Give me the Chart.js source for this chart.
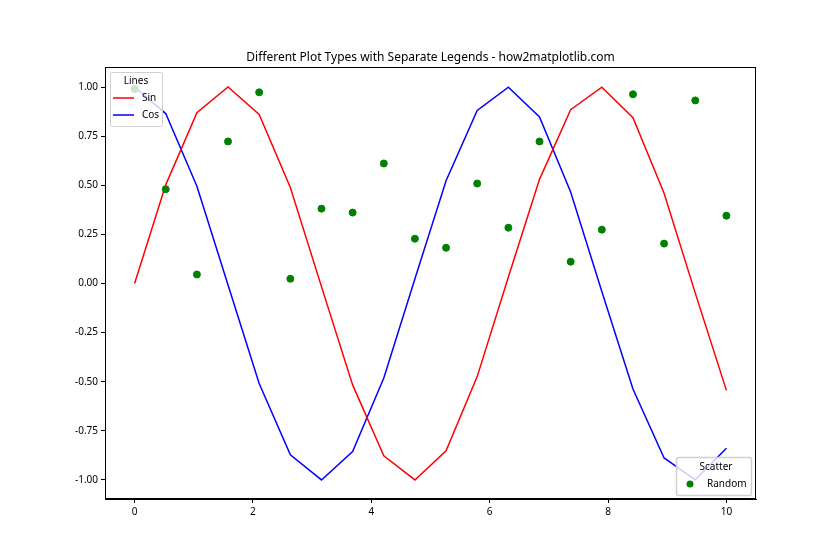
<!DOCTYPE html>
<html>
<head>
<meta charset="utf-8">
<script src="https://cdn.jsdelivr.net/npm/chart.js@4"></script>
<style>
  body { margin: 0; background: #fff; }
</style>
</head>
<body>
<canvas id="grafico" width="840" height="560"></canvas>
<script>
// valores
const xValues = [0, 0.526, 1.053, 1.579, 2.105, 2.632, 3.158, 3.684, 4.211, 4.737,
  5.263, 5.789, 6.316, 6.842, 7.368, 7.895, 8.421, 8.947, 9.474, 10];
const sinValues = [0, 0.502, 0.869, 1.0, 0.861, 0.489, -0.016, -0.516, -0.877, -1.0,
  -0.852, -0.474, 0.033, 0.530, 0.885, 0.999, 0.844, 0.459, -0.049, -0.544];
const cosValues = [1.0, 0.865, 0.495, -0.008, -0.509, -0.872, -1.0, -0.856, -0.481, 0.024,
  0.523, 0.881, 0.999, 0.848, 0.466, -0.041, -0.537, -0.888, -0.999, -0.839];
const randomValues = [0.99, 0.48, 0.046, 0.723, 0.973, 0.024, 0.381, 0.361, 0.611, 0.228,
  0.182, 0.509, 0.284, 0.723, 0.111, 0.274, 0.963, 0.203, 0.932, 0.345];
const xTicks = [0, 2, 4, 6, 8, 10];
const yTicks = [-1, -0.75, -0.5, -0.25, 0, 0.25, 0.5, 0.75, 1];

const pontos = (ys) => xValues.map((x, i) => ({ x: x, y: ys[i] }));
const fonte = '"Noto Sans", "DejaVu Sans", sans-serif';

// legendas separadas + moldura + título
const extras = {
  id: 'extras',
  afterDraw(chart) {
    const ctx = chart.ctx;
    const a = chart.chartArea;
    ctx.save();

    // moldura completa
    ctx.strokeStyle = '#000';
    ctx.lineWidth = 1;
    ctx.strokeRect(a.left + 0.5, a.top + 0.5, a.right - a.left - 1, a.bottom - a.top - 1);

    // título
    ctx.fillStyle = '#000';
    ctx.font = '12px ' + fonte;
    ctx.textAlign = 'center';
    ctx.textBaseline = 'alphabetic';
    ctx.fillText('Different Plot Types with Separate Legends - how2matplotlib.com', (a.left + a.right) / 2, a.top - 6);

    const caixa = (x, y, w, h) => {
      ctx.beginPath();
      ctx.roundRect(x + 0.5, y + 0.5, w, h, 2);
      ctx.fillStyle = 'rgba(255,255,255,0.8)';
      ctx.fill();
      ctx.strokeStyle = '#d0d0d0';
      ctx.stroke();
    };

    // legenda "Lines"
    const lx = a.left + 5, ly = a.top + 5;
    caixa(lx, ly, 52, 54);
    ctx.font = '10px ' + fonte;
    ctx.fillStyle = '#000';
    ctx.textAlign = 'center';
    ctx.textBaseline = 'middle';
    ctx.fillText('Lines', lx + 26, ly + 9);
    ctx.textAlign = 'left';
    [['Sin', 'red', 26], ['Cos', 'blue', 43]].forEach(([txt, cor, dy]) => {
      ctx.strokeStyle = cor;
      ctx.lineWidth = 1.5;
      ctx.beginPath();
      ctx.moveTo(lx + 3, ly + dy);
      ctx.lineTo(lx + 24, ly + dy);
      ctx.stroke();
      ctx.fillStyle = '#000';
      ctx.fillText(txt, lx + 32, ly + dy);
    });

    // legenda "Scatter"
    const sx = a.right - 80, sy = a.bottom - 42;
    caixa(sx, sy, 75, 38);
    ctx.fillStyle = '#000';
    ctx.textAlign = 'center';
    ctx.fillText('Scatter', sx + 40, sy + 10);
    ctx.fillStyle = 'green';
    ctx.beginPath();
    ctx.arc(sx + 14, sy + 27, 3.5, 0, Math.PI * 2);
    ctx.fill();
    ctx.fillStyle = '#000';
    ctx.textAlign = 'left';
    ctx.fillText('Random', sx + 31, sy + 27);

    ctx.restore();
  }
};

const ctxGrafico = document.getElementById('grafico').getContext('2d');
const grafico = new Chart(ctxGrafico, {
  type: 'scatter',
  data: {
    datasets: [
      {
        label: 'Random',
        data: pontos(randomValues),
        backgroundColor: 'green',
        borderColor: 'green',
        pointRadius: 3.5,
        order: 0
      },
      {
        label: 'Sin',
        data: pontos(sinValues),
        showLine: true,
        borderColor: 'red',
        borderWidth: 1.5,
        pointRadius: 0,
        order: 1
      },
      {
        label: 'Cos',
        data: pontos(cosValues),
        showLine: true,
        borderColor: 'blue',
        borderWidth: 1.5,
        pointRadius: 0,
        order: 2
      }
    ]
  },
  options: {
    responsive: false,
    animation: false,
    layout: { padding: { top: 67, right: 84, left: 0, bottom: 0 } },
    scales: {
      x: {
        min: -0.5,
        max: 10.5,
        afterBuildTicks: (s) => { s.ticks = xTicks.map(v => ({ value: v })); },
        afterFit: (s) => { s.height = 61; },
        grid: { drawOnChartArea: false, tickLength: 4, color: '#000' },
        border: { color: '#000' },
        ticks: { color: '#000', font: { family: fonte, size: 10 }, padding: 3, maxRotation: 0 }
      },
      y: {
        min: -1.097,
        max: 1.102,
        afterBuildTicks: (s) => { s.ticks = yTicks.map(v => ({ value: v })); },
        afterFit: (s) => { s.width = 105; },
        grid: { drawOnChartArea: false, tickLength: 4, color: '#000' },
        border: { color: '#000' },
        ticks: {
          color: '#000',
          font: { family: fonte, size: 10 },
          padding: 3,
          callback: (v) => Number(v).toFixed(2)
        }
      }
    },
    plugins: {
      legend: { display: false },
      tooltip: { enabled: false }
    }
  },
  plugins: [extras]
});
</script>
</body>
</html>
